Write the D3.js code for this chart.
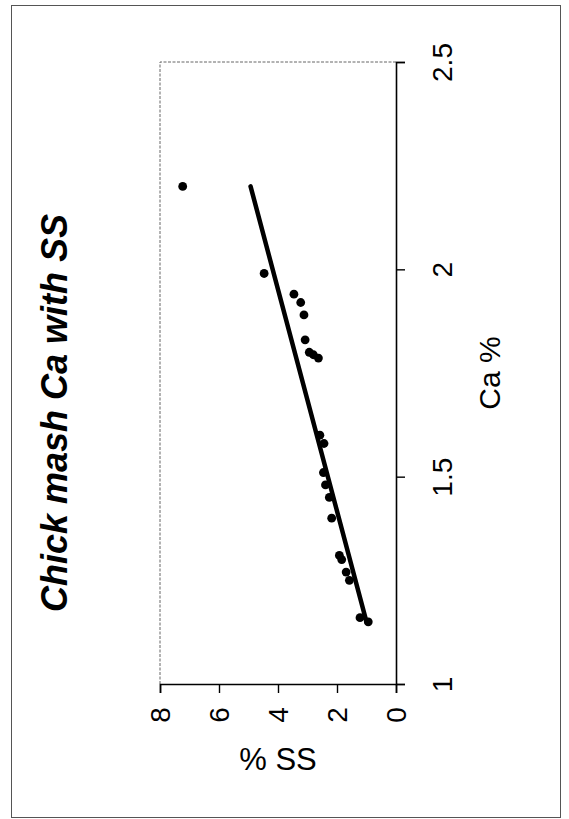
<!DOCTYPE html>
<html>
<head>
<meta charset="utf-8">
<script src="https://cdn.jsdelivr.net/npm/d3@7"></script>
<style>
  html, body { margin: 0; padding: 0; background: #fff; }
  svg { display: block; font-family: "Liberation Sans", Arial, sans-serif; }
</style>
</head>
<body>
<svg id="chart" width="569" height="819"></svg>
<script>
// Measured samples: suspended solids (% SS) against calcium content (Ca %)
const ssValues = [7.23, 4.47, 3.46, 3.23, 3.12, 3.08, 2.94, 2.80, 2.63, 2.58, 2.44, 2.46, 2.39, 2.26, 2.18, 1.92, 1.84, 1.69, 1.58, 1.22, 0.94];
const caValues = [2.20, 1.99, 1.94, 1.92, 1.89, 1.83, 1.80, 1.794, 1.786, 1.60, 1.58, 1.51, 1.48, 1.45, 1.40, 1.31, 1.30, 1.27, 1.25, 1.16, 1.15];

// Fitted trend line end points
const trendCa = [1.15, 2.20];
const trendSS = [1.00, 4.93];

// Axis ticks
const ssTicks = [0, 2, 4, 6, 8];
const caTicks = [1, 1.5, 2, 2.5];

const title = "Chick mash Ca with SS";
const ssLabel = "% SS";
const caLabel = "Ca %";

const svg = d3.select("#chart");

// The chart is laid out turned a quarter turn: % SS runs right-to-left, Ca % bottom-to-top
const plot = { left: 160, right: 396, top: 62, bottom: 684 };
const x = d3.scaleLinear().domain([0, 8]).range([plot.right, plot.left]);
const y = d3.scaleLinear().domain([1, 2.5]).range([plot.bottom, plot.top]);

// Outer frame
svg.append("rect")
  .attr("x", 11.5).attr("y", 5.5)
  .attr("width", 549).attr("height", 812)
  .attr("fill", "none").attr("stroke", "#555").attr("stroke-width", 1);

// Dotted top and left edges of the plot area
svg.append("path")
  .attr("d", `M${plot.left},${plot.bottom} V${plot.top} H${plot.right}`)
  .attr("fill", "none").attr("stroke", "#666").attr("stroke-width", 1)
  .attr("stroke-dasharray", "3,1.5");

// % SS axis along the bottom
const ssAxis = svg.append("g")
  .attr("transform", `translate(0,${plot.bottom})`)
  .call(d3.axisBottom(x).tickValues(ssTicks).tickSize(9).tickFormat(d3.format("d")));
ssAxis.select(".domain").attr("stroke", "#000").attr("stroke-width", 1.6);
ssAxis.selectAll(".tick line").attr("stroke", "#000").attr("stroke-width", 1.4);
ssAxis.selectAll(".tick text")
  .attr("y", 0).attr("dy", null)
  .attr("font-size", 28).attr("fill", "#000")
  .attr("text-anchor", "middle").attr("dominant-baseline", "central")
  .attr("transform", "translate(0,31) rotate(-90)");

// Ca % axis along the right side
const caAxis = svg.append("g")
  .attr("transform", `translate(${plot.right},0)`)
  .call(d3.axisRight(y).tickValues(caTicks).tickSize(9).tickFormat(d => d3.format("")(d)));
caAxis.select(".domain").attr("stroke", "#000").attr("stroke-width", 1.6);
caAxis.selectAll(".tick line").attr("stroke", "#000").attr("stroke-width", 1.4);
caAxis.selectAll(".tick text")
  .attr("x", 0).attr("dy", null)
  .attr("font-size", 28).attr("fill", "#000")
  .attr("text-anchor", "middle").attr("dominant-baseline", "central")
  .attr("transform", "translate(46,0) rotate(-90)");

// Trend line
const trend = trendCa.map((c, i) => ({ ca: c, ss: trendSS[i] }));
svg.append("path")
  .datum(trend)
  .attr("d", d3.line().x(d => x(d.ss)).y(d => y(d.ca)))
  .attr("fill", "none").attr("stroke", "#000").attr("stroke-width", 4.5)
  .attr("stroke-linecap", "round");

// Data points
const points = caValues.map((c, i) => ({ ca: c, ss: ssValues[i] }));
svg.append("g").selectAll("circle")
  .data(points).join("circle")
  .attr("cx", d => x(d.ss)).attr("cy", d => y(d.ca))
  .attr("r", 4.4).attr("fill", "#000");

// Axis titles: % SS reads upright, Ca % runs along the side
svg.append("text")
  .attr("x", (plot.left + plot.right) / 2).attr("y", 770)
  .attr("text-anchor", "middle")
  .attr("font-size", 31).attr("fill", "#000")
  .text(ssLabel);

svg.append("text")
  .attr("transform", `translate(489,${(plot.top + plot.bottom) / 2}) rotate(-90)`)
  .attr("text-anchor", "middle").attr("dominant-baseline", "central")
  .attr("font-size", 30).attr("fill", "#000")
  .text(caLabel);

// Chart title
svg.append("text")
  .attr("transform", "translate(54,413) rotate(-90)")
  .attr("text-anchor", "middle").attr("dominant-baseline", "central")
  .attr("font-size", 36).attr("font-weight", "bold").attr("font-style", "italic")
  .attr("fill", "#000")
  .text(title);
</script>
</body>
</html>
